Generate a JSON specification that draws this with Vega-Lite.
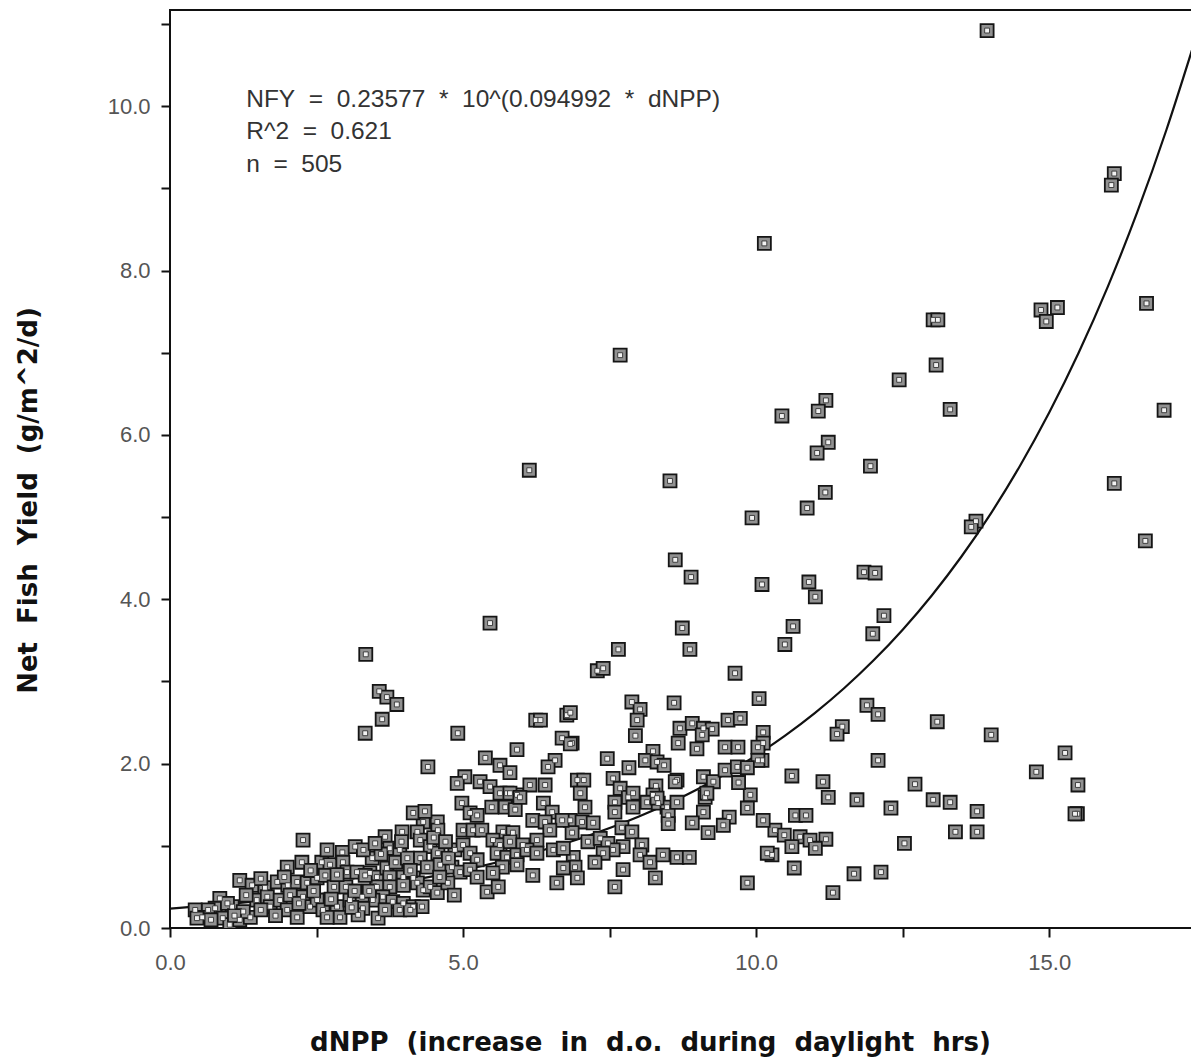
{
  "$schema": "https://vega.github.io/schema/vega-lite/v6.json",
  "autosize": {"type": "none"},
  "padding": {"left": 170, "top": 10, "right": 0, "bottom": 134},
  "width": 1024,
  "height": 918,
  "background": "white",
  "config": {
    "view": {"stroke": "#111", "strokeWidth": 2},
    "font": "Liberation Sans"
  },
  "datasets": {
    "pts": [
      {"x":13.94,"y":10.92},{"x":16.11,"y":9.18},{"x":16.06,"y":9.04},{"x":10.14,"y":8.33},{"x":7.68,"y":6.97},
      {"x":14.86,"y":7.52},{"x":14.95,"y":7.38},{"x":15.14,"y":7.55},{"x":16.66,"y":7.60},{"x":13.02,"y":7.40},
      {"x":13.10,"y":7.40},{"x":12.44,"y":6.67},{"x":13.07,"y":6.85},{"x":11.19,"y":6.42},{"x":11.06,"y":6.29},
      {"x":10.44,"y":6.23},{"x":13.31,"y":6.31},{"x":16.96,"y":6.30},{"x":11.23,"y":5.91},{"x":11.04,"y":5.78},
      {"x":6.13,"y":5.57},{"x":11.95,"y":5.62},{"x":8.53,"y":5.44},{"x":11.18,"y":5.30},{"x":10.87,"y":5.11},
      {"x":16.11,"y":5.41},{"x":9.93,"y":4.99},{"x":13.75,"y":4.95},{"x":13.67,"y":4.88},{"x":16.64,"y":4.71},
      {"x":8.62,"y":4.48},{"x":8.89,"y":4.27},{"x":11.84,"y":4.33},{"x":12.03,"y":4.32},{"x":10.10,"y":4.18},
      {"x":10.90,"y":4.21},{"x":11.01,"y":4.03},{"x":5.46,"y":3.71},{"x":8.74,"y":3.65},{"x":10.63,"y":3.67},
      {"x":12.18,"y":3.80},{"x":11.99,"y":3.58},{"x":10.49,"y":3.45},{"x":3.34,"y":3.33},{"x":8.87,"y":3.39},
      {"x":7.65,"y":3.39},{"x":7.29,"y":3.13},{"x":7.39,"y":3.16},{"x":9.64,"y":3.10},{"x":3.57,"y":2.88},
      {"x":3.70,"y":2.81},{"x":3.87,"y":2.72},{"x":3.62,"y":2.54},{"x":3.33,"y":2.37},{"x":4.91,"y":2.37},
      {"x":6.24,"y":2.53},{"x":6.32,"y":2.53},{"x":6.77,"y":2.59},{"x":7.88,"y":2.75},{"x":8.02,"y":2.66},
      {"x":7.97,"y":2.53},{"x":7.94,"y":2.34},{"x":8.60,"y":2.74},{"x":10.05,"y":2.79},{"x":11.89,"y":2.71},
      {"x":12.08,"y":2.60},{"x":11.47,"y":2.45},{"x":11.38,"y":2.36},{"x":13.09,"y":2.51},{"x":14.01,"y":2.35},
      {"x":15.27,"y":2.13},{"x":14.78,"y":1.90},{"x":15.49,"y":1.74},{"x":15.48,"y":1.39},{"x":15.44,"y":1.39},
      {"x":12.08,"y":2.04},{"x":10.61,"y":1.85},{"x":11.14,"y":1.78},{"x":11.23,"y":1.59},{"x":11.72,"y":1.56},
      {"x":12.30,"y":1.46},{"x":12.71,"y":1.75},{"x":13.02,"y":1.56},{"x":13.31,"y":1.53},{"x":13.77,"y":1.42},
      {"x":13.40,"y":1.17},{"x":13.77,"y":1.17},{"x":12.53,"y":1.03},{"x":10.67,"y":1.37},{"x":10.85,"y":1.37},
      {"x":10.32,"y":1.19},{"x":10.48,"y":1.13},{"x":10.75,"y":1.11},{"x":10.92,"y":1.07},{"x":11.19,"y":1.08},
      {"x":11.01,"y":0.97},{"x":10.61,"y":0.99},{"x":10.27,"y":0.89},{"x":10.65,"y":0.73},{"x":11.67,"y":0.66},
      {"x":12.13,"y":0.68},{"x":11.31,"y":0.43},{"x":10.12,"y":2.38},{"x":10.12,"y":2.25},{"x":10.10,"y":2.04},
      {"x":10.12,"y":1.31},
      {"x":6.83,"y":2.62},{"x":6.86,"y":2.25},{"x":8.70,"y":2.43},{"x":8.91,"y":2.49},{"x":9.10,"y":2.43},
      {"x":9.25,"y":2.42},{"x":9.52,"y":2.53},{"x":9.73,"y":2.55},{"x":9.08,"y":2.35},{"x":8.67,"y":2.25},
      {"x":8.99,"y":2.18},{"x":9.47,"y":2.20},{"x":9.69,"y":2.20},{"x":10.03,"y":2.20},{"x":10.03,"y":2.04},
      {"x":8.24,"y":2.15},{"x":8.11,"y":2.04},{"x":8.31,"y":2.02},{"x":8.43,"y":1.98},{"x":7.46,"y":2.06},
      {"x":7.83,"y":1.95},{"x":6.95,"y":1.80},{"x":7.06,"y":1.80},{"x":7.56,"y":1.82},{"x":7.68,"y":1.70},
      {"x":7.82,"y":1.59},{"x":7.59,"y":1.53},{"x":8.29,"y":1.73},{"x":8.24,"y":1.62},{"x":8.65,"y":1.80},
      {"x":9.10,"y":1.84},{"x":9.27,"y":1.78},{"x":9.47,"y":1.92},{"x":9.68,"y":1.96},{"x":9.85,"y":1.95},
      {"x":9.13,"y":1.59},{"x":8.14,"y":1.53},{"x":8.33,"y":1.52},{"x":8.48,"y":1.47},{"x":8.65,"y":1.53},
      {"x":7.90,"y":1.47},{"x":7.59,"y":1.41},{"x":8.50,"y":1.37},{"x":8.50,"y":1.27},{"x":9.10,"y":1.41},
      {"x":8.91,"y":1.28},{"x":9.18,"y":1.16},{"x":9.54,"y":1.35},{"x":9.44,"y":1.25},{"x":9.90,"y":1.62},
      {"x":9.85,"y":1.46},{"x":10.19,"y":0.91},{"x":9.85,"y":0.55},{"x":6.83,"y":1.31},{"x":7.03,"y":1.29},
      {"x":7.22,"y":1.28},{"x":7.08,"y":1.47},{"x":7.71,"y":1.22},{"x":7.88,"y":1.17},{"x":6.86,"y":1.16},
      {"x":7.13,"y":1.05},{"x":7.34,"y":1.09},{"x":7.47,"y":1.03},{"x":7.73,"y":0.99},{"x":7.56,"y":0.95},
      {"x":7.39,"y":0.91},{"x":7.25,"y":0.80},{"x":6.88,"y":0.86},{"x":6.91,"y":0.74},{"x":8.05,"y":1.01},
      {"x":8.02,"y":0.89},{"x":8.19,"y":0.80},{"x":8.41,"y":0.89},{"x":8.65,"y":0.86},{"x":8.86,"y":0.86},
      {"x":7.73,"y":0.71},{"x":6.95,"y":0.61},{"x":7.59,"y":0.50},{"x":8.28,"y":0.61},{"x":7.90,"y":1.64},
      {"x":8.31,"y":1.58},{"x":8.62,"y":1.78},{"x":9.16,"y":1.64},{"x":7.00,"y":1.64},{"x":9.70,"y":1.77},
      {"x":4.40,"y":1.96},{"x":5.38,"y":2.07},{"x":5.63,"y":1.98},{"x":5.80,"y":1.89},{"x":5.92,"y":2.17},
      {"x":6.57,"y":2.04},{"x":6.45,"y":1.96},{"x":6.69,"y":2.31},{"x":6.83,"y":2.24},{"x":5.03,"y":1.84},
      {"x":4.90,"y":1.76},{"x":5.29,"y":1.78},{"x":5.46,"y":1.72},{"x":5.75,"y":1.64},{"x":5.92,"y":1.62},
      {"x":6.14,"y":1.74},{"x":6.40,"y":1.74},{"x":4.98,"y":1.52},{"x":5.49,"y":1.47},{"x":5.72,"y":1.47},
      {"x":5.89,"y":1.44},{"x":6.37,"y":1.52},{"x":6.52,"y":1.41},{"x":5.12,"y":1.40},{"x":5.24,"y":1.37},
      {"x":6.69,"y":1.31},{"x":4.32,"y":1.29},{"x":4.56,"y":1.29},{"x":3.96,"y":1.17},{"x":4.22,"y":1.17},
      {"x":4.57,"y":1.19},{"x":5.00,"y":1.19},{"x":5.17,"y":1.19},{"x":5.32,"y":1.19},{"x":5.68,"y":1.17},
      {"x":5.85,"y":1.16},{"x":6.19,"y":1.31},{"x":6.40,"y":1.29},{"x":6.48,"y":1.19},{"x":3.67,"y":1.11},
      {"x":3.75,"y":0.97},{"x":3.92,"y":0.95},{"x":4.27,"y":1.07},{"x":4.44,"y":0.99},{"x":4.57,"y":0.91},
      {"x":4.27,"y":0.85},{"x":4.39,"y":0.74},{"x":4.61,"y":0.77},{"x":4.86,"y":0.95},{"x":5.00,"y":1.01},
      {"x":5.12,"y":0.91},{"x":5.24,"y":0.83},{"x":4.81,"y":0.74},{"x":4.95,"y":0.68},{"x":5.12,"y":0.71},
      {"x":5.24,"y":0.62},{"x":5.51,"y":1.07},{"x":5.63,"y":1.01},{"x":5.80,"y":1.05},{"x":6.02,"y":1.01},
      {"x":6.26,"y":1.07},{"x":5.58,"y":0.91},{"x":5.75,"y":0.86},{"x":5.92,"y":0.89},{"x":6.09,"y":0.95},
      {"x":6.26,"y":0.91},{"x":6.54,"y":0.95},{"x":6.71,"y":0.97},{"x":5.67,"y":0.74},{"x":5.92,"y":0.77},
      {"x":5.51,"y":0.67},{"x":6.19,"y":0.64},{"x":6.60,"y":0.55},{"x":5.41,"y":0.44},{"x":5.60,"y":0.50},
      {"x":6.71,"y":0.73},{"x":3.41,"y":0.67},{"x":3.53,"y":0.62},{"x":3.70,"y":0.73},{"x":3.75,"y":0.62},
      {"x":3.98,"y":0.62},{"x":4.15,"y":0.61},{"x":3.53,"y":0.50},{"x":3.75,"y":0.50},{"x":3.98,"y":0.52},
      {"x":4.22,"y":0.55},{"x":4.32,"y":0.46},{"x":3.63,"y":0.38},{"x":3.80,"y":0.32},{"x":3.98,"y":0.30},
      {"x":4.15,"y":0.26},{"x":4.30,"y":0.26},{"x":3.46,"y":0.34},{"x":3.55,"y":0.12},{"x":3.67,"y":0.22},
      {"x":3.92,"y":0.22},{"x":4.10,"y":0.22},{"x":4.44,"y":0.50},{"x":4.56,"y":0.43},{"x":4.74,"y":0.55},
      {"x":5.63,"y":1.64},{"x":5.80,"y":1.64},{"x":5.97,"y":1.59},
      {"x":2.27,"y":1.07},{"x":2.00,"y":0.74},{"x":2.25,"y":0.80},{"x":2.59,"y":0.80},{"x":2.73,"y":0.77},
      {"x":2.68,"y":0.95},{"x":2.94,"y":0.92},{"x":3.16,"y":0.99},{"x":2.95,"y":0.80},{"x":1.19,"y":0.58},
      {"x":1.40,"y":0.52},{"x":1.62,"y":0.49},{"x":1.83,"y":0.56},{"x":2.01,"y":0.52},{"x":2.17,"y":0.56},
      {"x":2.34,"y":0.55},{"x":2.51,"y":0.61},{"x":2.65,"y":0.64},{"x":3.02,"y":0.68},{"x":3.19,"y":0.68},
      {"x":3.33,"y":0.64},{"x":0.85,"y":0.36},{"x":1.06,"y":0.26},{"x":0.77,"y":0.24},{"x":0.65,"y":0.22},
      {"x":0.43,"y":0.22},{"x":0.55,"y":0.13},{"x":0.46,"y":0.12},{"x":0.90,"y":0.12},{"x":1.02,"y":0.04},
      {"x":1.19,"y":0.10},{"x":1.37,"y":0.13},{"x":1.48,"y":0.34},{"x":1.66,"y":0.38},{"x":1.71,"y":0.26},
      {"x":1.88,"y":0.34},{"x":2.00,"y":0.22},{"x":2.17,"y":0.13},{"x":2.27,"y":0.38},{"x":2.39,"y":0.26},
      {"x":2.51,"y":0.34},{"x":2.61,"y":0.22},{"x":2.85,"y":0.26},{"x":2.90,"y":0.13},{"x":2.68,"y":0.13},
      {"x":3.07,"y":0.34},{"x":3.28,"y":0.38},{"x":3.29,"y":0.24},{"x":3.21,"y":0.16},
      {"x":0.98,"y":0.30},{"x":1.25,"y":0.20},{"x":1.55,"y":0.22},{"x":1.80,"y":0.15},{"x":2.05,"y":0.40},
      {"x":2.45,"y":0.45},{"x":2.80,"y":0.50},{"x":3.00,"y":0.50},{"x":3.15,"y":0.45},{"x":1.30,"y":0.40},
      {"x":0.70,"y":0.10},{"x":1.10,"y":0.15},{"x":2.20,"y":0.30},{"x":2.75,"y":0.35},{"x":3.10,"y":0.25},
      {"x":3.40,"y":0.45},{"x":3.45,"y":0.85},{"x":3.60,"y":0.90},{"x":3.85,"y":0.80},{"x":4.05,"y":0.85},
      {"x":3.95,"y":1.05},{"x":4.10,"y":0.70},{"x":4.50,"y":1.10},{"x":4.70,"y":1.05},{"x":4.75,"y":0.85},
      {"x":4.60,"y":0.62},{"x":4.85,"y":0.40},{"x":3.30,"y":0.95},{"x":3.50,"y":1.03},{"x":2.85,"y":0.65},
      {"x":2.40,"y":0.70},{"x":1.95,"y":0.62},{"x":1.55,"y":0.60},{"x":4.15,"y":1.40},{"x":4.35,"y":1.42}
    ],
    "fit": [
      {"x":0,"y":0.2358},{"x":1,"y":0.2934},{"x":2,"y":0.3651},{"x":3,"y":0.4544},{"x":4,"y":0.5655},
      {"x":5,"y":0.7038},{"x":6,"y":0.8758},{"x":7,"y":1.0900},{"x":8,"y":1.3565},{"x":9,"y":1.6881},
      {"x":10,"y":2.1008},{"x":10.5,"y":2.3436},{"x":11,"y":2.6145},{"x":11.5,"y":2.9167},{"x":12,"y":3.2537},
      {"x":12.5,"y":3.6297},{"x":13,"y":4.0492},{"x":13.5,"y":4.5172},{"x":14,"y":5.0392},{"x":14.5,"y":5.6216},
      {"x":15,"y":6.2713},{"x":15.5,"y":6.9961},{"x":16,"y":7.8046},{"x":16.5,"y":8.7066},{"x":17,"y":9.7128},
      {"x":17.47,"y":10.76}
    ],
    "notes": [
      {"x":1.30,"y":10.07,"t":"NFY\u00a0 =\u00a0 0.23577\u00a0 *\u00a0 10^(0.094992\u00a0 *\u00a0 dNPP)"},
      {"x":1.30,"y":9.68,"t":"R^2\u00a0 =\u00a0 0.621"},
      {"x":1.30,"y":9.29,"t":"n\u00a0 =\u00a0 505"}
    ]
  },
  "layer": [
    {
      "data": {"name": "fit"},
      "mark": {"type": "line", "color": "#111", "strokeWidth": 2.2, "interpolate": "monotone", "clip": true},
      "encoding": {
        "x": {
          "field": "x", "type": "quantitative",
          "scale": {"domain": [0, 17.47], "nice": false, "zero": false},
          "axis": {
            "values": [0, 2.5, 5, 7.5, 10, 12.5, 15],
            "labelExpr": "datum.value % 5 === 0 ? format(datum.value, '.1f') : ''",
            "labelFlush": false,
            "grid": false, "domain": false, "tickColor": "#111", "tickWidth": 2, "tickSize": 9,
            "labelFont": "Liberation Sans", "labelFontSize": 22, "labelColor": "#555", "labelPadding": 15,
            "title": "dNPP\u00a0 (increase\u00a0 in\u00a0 d.o.\u00a0 during\u00a0 daylight\u00a0 hrs)",
            "titleFont": "DejaVu Sans", "titleFontSize": 26, "titleFontWeight": "bold", "titleColor": "#111",
            "titleX": 480, "titleY": 114, "titleBaseline": "middle", "titleAnchor": "middle", "titleAlign": "center"
          }
        },
        "y": {
          "field": "y", "type": "quantitative",
          "scale": {"domain": [0, 11.17], "nice": false, "zero": false},
          "axis": {
            "values": [0, 1, 2, 3, 4, 5, 6, 7, 8, 9, 10, 11],
            "labelExpr": "datum.value % 2 === 0 ? format(datum.value, '.1f') : ''",
            "labelFlush": false,
            "grid": false, "domain": false, "tickColor": "#111", "tickWidth": 2, "tickSize": 9,
            "labelFont": "Liberation Sans", "labelFontSize": 22, "labelColor": "#555", "labelPadding": 11,
            "title": "Net\u00a0 Fish\u00a0 Yield\u00a0 (g/m^2/d)",
            "titleFont": "DejaVu Sans", "titleFontSize": 26, "titleFontWeight": "bold", "titleColor": "#111",
            "titleX": -142, "titleY": 490, "titleBaseline": "middle", "titleAnchor": "middle", "titleAlign": "center", "titleAngle": -90
          }
        }
      }
    },
    {
      "data": {"name": "pts"},
      "mark": {"type": "square", "size": 170, "fill": "#919191", "fillOpacity": 1, "stroke": "#151515", "strokeWidth": 1.8, "clip": true},
      "encoding": {
        "x": {"field": "x", "type": "quantitative"},
        "y": {"field": "y", "type": "quantitative"}
      }
    },
    {
      "data": {"name": "pts"},
      "mark": {"type": "square", "size": 24, "fill": "#f2f2f2", "fillOpacity": 1, "stroke": "#333", "strokeWidth": 0.9, "clip": true},
      "encoding": {
        "x": {"field": "x", "type": "quantitative"},
        "y": {"field": "y", "type": "quantitative"}
      }
    },
    {
      "data": {"name": "notes"},
      "mark": {"type": "text", "align": "left", "baseline": "middle", "font": "Liberation Sans", "fontSize": 24.5, "color": "#333"},
      "encoding": {
        "x": {"field": "x", "type": "quantitative"},
        "y": {"field": "y", "type": "quantitative"},
        "text": {"field": "t"}
      }
    }
  ]
}
